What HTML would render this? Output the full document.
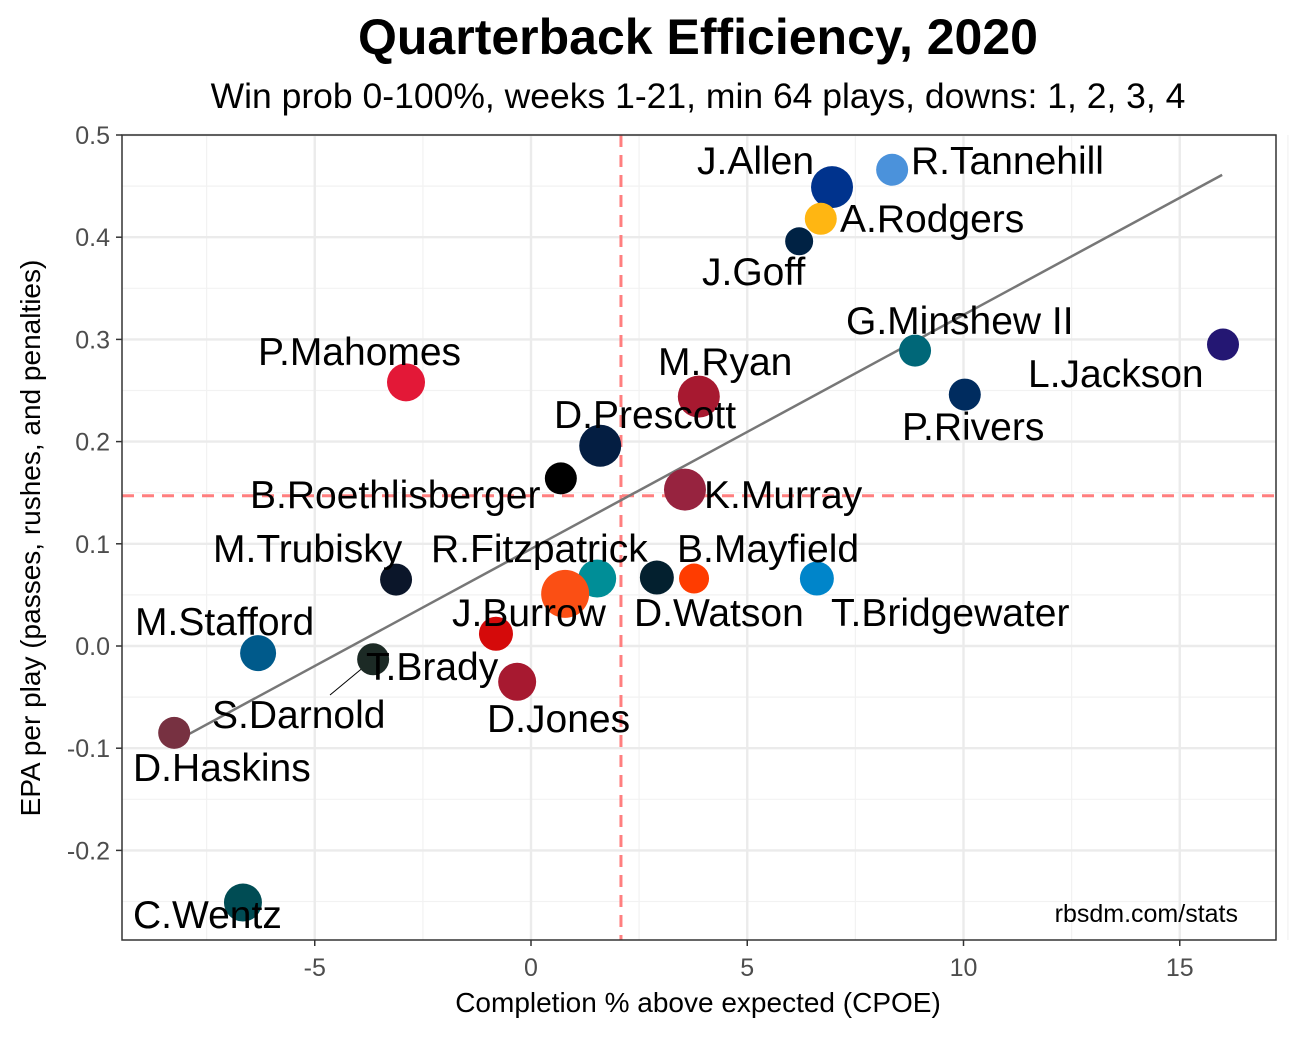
<!DOCTYPE html>
<html><head><meta charset="utf-8"><style>
body{margin:0;background:#fff;}
svg text{font-family:"Liberation Sans",sans-serif;}
</style></head><body>
<svg id="chart" width="1296" height="1038" xmlns="http://www.w3.org/2000/svg">
<rect width="1296" height="1038" fill="#fff"/>
<text x="698" y="54" text-anchor="middle" font-size="50" font-weight="bold">Quarterback Efficiency, 2020</text>
<text x="698" y="108" text-anchor="middle" font-size="35.5">Win prob 0-100%, weeks 1-21, min 64 plays, downs: 1, 2, 3, 4</text>
<g id="grid"></g>
<g id="marks"></g>
<rect x="122" y="135" width="1154" height="805" fill="none" stroke="#333" stroke-width="1.5"/>
<text x="698" y="1012" text-anchor="middle" font-size="28">Completion % above expected (CPOE)</text>
<text transform="translate(40,538) rotate(-90)" text-anchor="middle" font-size="28">EPA per play (passes, rushes, and penalties)</text>
<text x="1238" y="922" text-anchor="end" font-size="25">rbsdm.com/stats</text>
</svg>
<script>
const players=["J.Allen","R.Tannehill","A.Rodgers","J.Goff","G.Minshew II","L.Jackson","P.Rivers","P.Mahomes","M.Ryan","D.Prescott","B.Roethlisberger","K.Murray","M.Trubisky","R.Fitzpatrick","J.Burrow","D.Watson","B.Mayfield","T.Bridgewater","M.Stafford","T.Brady","S.Darnold","D.Jones","D.Haskins","C.Wentz"];
const cpoe=[6.96,8.35,6.7,6.2,8.88,16.0,10.03,-2.89,3.88,1.6,0.69,3.56,-3.12,1.53,0.79,2.91,3.77,6.61,-6.31,-3.65,-0.81,-0.32,-8.25,-6.66];
const epa=[0.449,0.466,0.418,0.396,0.289,0.295,0.246,0.258,0.244,0.196,0.164,0.153,0.065,0.066,0.051,0.067,0.066,0.066,-0.007,-0.013,0.012,-0.035,-0.085,-0.251];
const plays=[21,16,16,14,16,16,16,19,21,21,16,21,16,19,24,17,15,17,18,16,17,19,16,19];
const colors=["#00338D","#4B92DB","#FFB612","#002244","#006778","#241773","#002C5F","#E31837","#A71930","#041E42","#000000","#97233F","#0B162A","#008E97","#FB4F14","#03202F","#FF3C00","#0085CA","#005A8B","#1c2a25","#D50A0A","#A71930","#773141","#004C54"];
const labelPos=[[697,174],[911,174],[840,232],[702,285],[846,334],[1028,387],[902,440],[258,365],[658,375],[554,428],[250,508],[704,508],[213,562],[431,562],[452,626],[634,626],[677,562],[831,626],[135,635],[366,680],[212,728],[487,732],[133,781],[133,928]];
const xTicks=[-5,0,5,10,15];
const yTicks=[-0.2,-0.1,0,0.1,0.2,0.3,0.4,0.5];
const meanCpoe=2.08, meanEpa=0.147;
const fitX=[-8.25,15.98], fitY=[-0.094,0.461];
const X=v=>531+v*43.25, Y=v=>646-v*1022;
const NS="http://www.w3.org/2000/svg";
function mk(t,a,p){const e=document.createElementNS(NS,t);for(const k in a)e.setAttribute(k,a[k]);p.appendChild(e);return e;}
const svg=document.getElementById('chart'),grid=document.getElementById('grid'),marks=document.getElementById('marks');
mk('rect',{x:122,y:135,width:1154,height:805,fill:'#fff'},grid);
for(const t of xTicks){const m=t-2.5;mk('line',{x1:X(m),x2:X(m),y1:135,y2:940,stroke:'#f2f2f2','stroke-width':1.2},grid);}
mk('line',{x1:X(17.5),x2:X(17.5),y1:135,y2:940,stroke:'#f2f2f2','stroke-width':1.2},grid);
for(const t of yTicks){const m=t-0.05;if(Y(m)<940)mk('line',{x1:122,x2:1276,y1:Y(m),y2:Y(m),stroke:'#f2f2f2','stroke-width':1.2},grid);}
for(const t of xTicks){
const l=mk('line',{x1:X(t),x2:X(t),y1:135,y2:940,stroke:'#ebebeb','stroke-width':2.4},grid);

mk('line',{x1:X(t),x2:X(t),y1:940,y2:946,stroke:'#333','stroke-width':1.5},svg);
const tx=mk('text',{x:X(t),y:976,'text-anchor':'middle','font-size':25,fill:'#4d4d4d'},svg);tx.textContent=t;
}
for(const t of yTicks){
const l=mk('line',{x1:122,x2:1276,y1:Y(t),y2:Y(t),stroke:'#ebebeb','stroke-width':2.4},grid);

mk('line',{x1:116,x2:122,y1:Y(t),y2:Y(t),stroke:'#333','stroke-width':1.5},svg);
const tx=mk('text',{x:110,y:Y(t)+9,'text-anchor':'end','font-size':25,fill:'#4d4d4d'},svg);tx.textContent=(Math.round(t*10)/10).toFixed(1);
}
const v=mk('line',{x1:X(meanCpoe),x2:X(meanCpoe),y1:135,y2:940,stroke:'#ff7f7f','stroke-width':3,'stroke-dasharray':'12,8'},marks);

const h=mk('line',{x1:122,x2:1276,y1:Y(meanEpa),y2:Y(meanEpa),stroke:'#ff7f7f','stroke-width':3,'stroke-dasharray':'12,8'},marks);

const f=mk('line',{x1:X(fitX[0]),y1:Y(fitY[0]),x2:X(fitX[1]),y2:Y(fitY[1]),stroke:'#777','stroke-width':2.5},marks);

mk('line',{x1:330,y1:695,x2:X(cpoe[19]),y2:Y(epa[19]),stroke:'#000','stroke-width':1},marks);
players.forEach((p,i)=>{
const c=mk('circle',{cx:X(cpoe[i]),cy:Y(epa[i]),r:plays[i],fill:colors[i]},marks);
});
players.forEach((p,i)=>{
const t=mk('text',{x:labelPos[i][0],y:labelPos[i][1],'font-size':39},marks);t.textContent=p;
});
</script>
</body></html>
